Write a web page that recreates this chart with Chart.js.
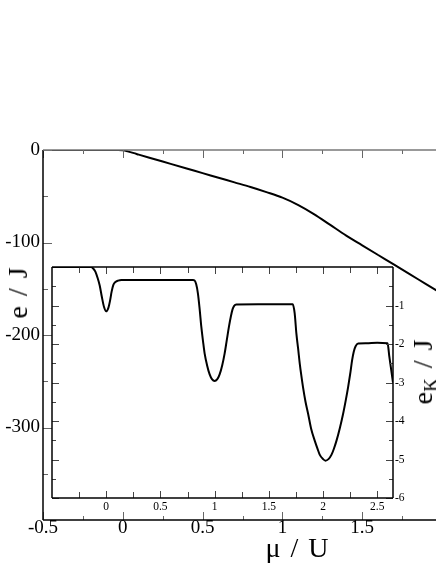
<!DOCTYPE html>
<html>
<head>
<meta charset="utf-8">
<script src="https://cdn.jsdelivr.net/npm/chart.js@4"></script>
<style>
  html, body { margin: 0; padding: 0; background: #fff; overflow: hidden; }
  #wrap { position: relative; width: 436px; height: 564px; overflow: hidden; }
  canvas { position: absolute; left: 0; top: 0; }
  .lbl {
    position: absolute;
    font-family: "Liberation Serif", "DejaVu Serif", serif;
    font-size: 28px;
    line-height: 1;
    color: #000;
    white-space: nowrap;
    word-spacing: 3px;
  }
  .lbl sub { font-size: 19px; vertical-align: -5px; line-height: 0; }
  #yTitle  { left: 18px;  top: 293px; transform: translate(-50%, -50%) rotate(-90deg); }
  #xTitle  { left: 297px; top: 548px; transform: translate(-50%, -50%); }
  #y2Title { left: 423px; top: 372px; transform: translate(-50%, -50%) rotate(-90deg); }
</style>
</head>
<body>
<div id="wrap">
  <canvas id="mainChart" width="480" height="564"></canvas>
  <canvas id="insetChart" width="480" height="564"></canvas>
  <div class="lbl" id="yTitle">e / J</div>
  <div class="lbl" id="xTitle">μ / U</div>
  <div class="lbl" id="y2Title">e<sub>K</sub> / J</div>
</div>
<script>
// ── Hlavní graf: e / J proti μ / U ───────────────────────────
const muMain = [-0.5, -0.3, -0.1, -0.03, 0, 0.03, 0.07, 0.1, 0.2, 0.3, 0.4, 0.5, 0.6, 0.7,
                0.8, 0.9, 1.0, 1.1, 1.2, 1.3, 1.4, 1.5, 1.6, 1.7, 1.8, 1.9, 2.0];
const eMain  = [0, 0, 0, 0, -0.4, -1.5, -3.4, -5, -10, -15, -20, -25, -30, -35,
                -40, -45.5, -51.5, -59.5, -69.5, -81, -92.5, -103, -113.5, -124, -134.5, -145, -155.5];

// ── Vložený graf: e_K / J ────────────────────────────────────
const muInset = [-0.5, -0.2, -0.14, -0.12, -0.1, -0.08, -0.06, -0.04, -0.02, 0, 0.02, 0.035, 0.05,
                 0.065, 0.085, 0.11, 0.14, 0.5, 0.8,
                 0.815, 0.83, 0.846, 0.862, 0.877, 0.893, 0.908, 0.93, 0.954, 0.977, 1.0, 1.023,
                 1.046, 1.07, 1.092, 1.112, 1.132, 1.15, 1.165, 1.18, 1.2, 1.4, 1.72,
                 1.738, 1.754, 1.77, 1.785, 1.8, 1.815, 1.838, 1.862, 1.89, 1.923, 1.95, 1.97, 2.0,
                 2.022, 2.05, 2.077, 2.1, 2.124, 2.155, 2.185, 2.21, 2.231, 2.25, 2.268, 2.283,
                 2.3, 2.324, 2.4, 2.5, 2.595, 2.61, 2.625, 2.645];
const ekInset = [0, 0, 0, -0.04, -0.12, -0.28, -0.48, -0.78, -1.04, -1.15, -1.06, -0.88, -0.64,
                 -0.47, -0.39, -0.355, -0.34, -0.34, -0.34,
                 -0.35, -0.45, -0.69, -1.1, -1.55, -1.93, -2.25, -2.55, -2.79, -2.92, -2.96, -2.92,
                 -2.79, -2.55, -2.25, -1.9, -1.55, -1.28, -1.1, -1.01, -0.975, -0.97, -0.97,
                 -1.2, -1.73, -2.12, -2.51, -2.83, -3.12, -3.5, -3.81, -4.2, -4.51, -4.73, -4.88, -4.99,
                 -5.03, -4.99, -4.88, -4.72, -4.51, -4.18, -3.81, -3.45, -3.12, -2.78, -2.42, -2.2,
                 -2.06, -1.99, -1.98, -1.97, -1.98, -2.3, -2.6, -3.0];

// ── Popisky a značky os ──────────────────────────────────────
const mainXTicks  = [-0.5, 0, 0.5, 1, 1.5, 2];
const mainXMinor  = [-0.25, 0.25, 0.75, 1.25, 1.75];
const mainYTicks  = [0, -100, -200, -300];
const mainYMinor  = [-50, -150, -250, -350];
const insetXTicks = [0, 0.5, 1, 1.5, 2, 2.5];
const insetXMinor = [-0.25, 0.25, 0.75, 1.25, 1.75, 2.25];
const insetYTicks = [-1, -2, -3, -4, -5, -6];
const insetYMinor = [-0.5, -1.5, -2.5, -3.5, -4.5, -5.5];

const serif = '"Liberation Serif", "DejaVu Serif", serif';

function toPoints(xs, ys) {
  return xs.map((x, i) => ({ x, y: ys[i] }));
}

function fixedTicks(values) {
  return scale => { scale.ticks = values.map(v => ({ value: v })); };
}

// Rámeček + značky dovnitř (Chart.js kreslí ticky ven, tak je kreslíme sami)
const frameTicks = {
  id: "frameTicks",
  beforeDatasetsDraw(chart, args, o) {
    if (!o.fill) return;
    const a = chart.chartArea;
    const ctx = chart.ctx;
    ctx.save();
    ctx.fillStyle = o.fill;
    ctx.fillRect(a.left, a.top, a.right - a.left, a.bottom - a.top);
    ctx.restore();
  },
  afterDraw(chart, args, o) {
    const { ctx, chartArea: a, scales: { x, y } } = chart;
    const seg = (x1, y1, x2, y2, col, w) => {
      ctx.strokeStyle = col;
      ctx.lineWidth = w;
      ctx.beginPath();
      ctx.moveTo(x1, y1);
      ctx.lineTo(x2, y2);
      ctx.stroke();
    };
    ctx.save();

    const xMarks = (vals, len) => vals.forEach(v => {
      const p = Math.round(x.getPixelForValue(v)) + 0.5;
      seg(p, a.bottom, p, a.bottom - len, o.tickColor, 1);
      seg(p, a.top, p, a.top + len, o.tickColor, 1);
    });
    const yMarks = (vals, len) => vals.forEach(v => {
      const p = Math.round(y.getPixelForValue(v)) + 0.5;
      seg(a.left, p, a.left + len, p, o.tickColor, 1);
      if (o.rightTicks) seg(a.right, p, a.right - len, p, o.tickColor, 1);
    });
    xMarks(o.xMajor, o.majorLen);
    xMarks(o.xMinor, o.minorLen);
    yMarks(o.yMajor, o.yMajorLen);
    yMarks(o.yMinor, o.yMinorLen);

    o.sides.forEach(s => {
      if (s === "left")   seg(a.left, a.top, a.left, a.bottom, o.frameColor, o.frameWidth);
      if (s === "right")  seg(a.right, a.top, a.right, a.bottom, o.frameColor, o.frameWidth);
      if (s === "bottom") seg(a.left, a.bottom, a.right, a.bottom, o.frameColor, o.frameWidth);
      if (s === "top")    seg(a.left, a.top, a.right, a.top, o.topColor || o.frameColor, o.frameWidth);
    });
    ctx.restore();
  }
};

const baseOpts = {
  responsive: false,
  animation: false,
  events: [],
  plugins: { legend: { display: false }, tooltip: { enabled: false } }
};

// ── Hlavní graf ──────────────────────────────────────────────
new Chart(document.getElementById("mainChart"), {
  type: "line",
  data: {
    datasets: [{
      data: toPoints(muMain, eMain),
      borderColor: "#000",
      borderWidth: 2,
      pointRadius: 0,
      cubicInterpolationMode: "monotone"
    }]
  },
  plugins: [frameTicks],
  options: {
    ...baseOpts,
    layout: { padding: { top: 150, right: 38, left: 0, bottom: 0 } },
    plugins: {
      ...baseOpts.plugins,
      frameTicks: {
        sides: ["left", "bottom", "top"],
        frameColor: "#000", topColor: "#777", frameWidth: 1.5, tickColor: "#666",
        xMajor: mainXTicks, xMinor: mainXMinor, majorLen: 8, minorLen: 4,
        yMajor: mainYTicks, yMinor: mainYMinor, yMajorLen: 9, yMinorLen: 5,
        rightTicks: false
      }
    },
    scales: {
      x: {
        type: "linear", min: -0.5, max: 2,
        afterBuildTicks: fixedTicks(mainXTicks),
        afterFit: s => { s.height = 44; },
        grid: { display: false, drawTicks: false },
        border: { display: false },
        ticks: {
          autoSkip: false, maxRotation: 0, padding: -1, color: "#000",
          font: { family: serif, size: 19, lineHeight: 1 },
          callback: v => String(v)
        }
      },
      y: {
        type: "linear", min: -400, max: 0,
        afterBuildTicks: fixedTicks(mainYTicks),
        afterFit: s => { s.width = 43; },
        grid: { display: false, drawTicks: false },
        border: { display: false },
        ticks: {
          autoSkip: false, padding: 3, color: "#000",
          font: { family: serif, size: 19, lineHeight: 1 },
          callback: v => String(v)
        }
      }
    }
  }
});

// ── Vložený graf ─────────────────────────────────────────────
new Chart(document.getElementById("insetChart"), {
  type: "line",
  data: {
    datasets: [{
      data: toPoints(muInset, ekInset),
      borderColor: "#000",
      borderWidth: 2,
      pointRadius: 0,
      cubicInterpolationMode: "monotone"
    }]
  },
  plugins: [frameTicks],
  options: {
    ...baseOpts,
    layout: { padding: { top: 267, right: 0, left: 52, bottom: 0 } },
    plugins: {
      ...baseOpts.plugins,
      frameTicks: {
        fill: "#fff",
        sides: ["left", "right", "bottom", "top"],
        frameColor: "#000", frameWidth: 1.5, tickColor: "#444",
        xMajor: insetXTicks, xMinor: insetXMinor, majorLen: 7, minorLen: 6,
        yMajor: insetYTicks, yMinor: insetYMinor, yMajorLen: 7, yMinorLen: 4,
        rightTicks: true
      }
    },
    scales: {
      x: {
        type: "linear", min: -0.5, max: 2.645,
        afterBuildTicks: fixedTicks(insetXTicks),
        afterFit: s => { s.height = 66; },
        grid: { display: false, drawTicks: false },
        border: { display: false },
        ticks: {
          autoSkip: false, maxRotation: 0, padding: 3, color: "#000",
          font: { family: serif, size: 11.5, lineHeight: 1 },
          callback: v => String(v)
        }
      },
      y: {
        type: "linear", position: "right", min: -6, max: 0,
        afterBuildTicks: fixedTicks(insetYTicks),
        afterFit: s => { s.width = 87; },
        grid: { display: false, drawTicks: false },
        border: { display: false },
        ticks: {
          autoSkip: false, padding: 2, color: "#000",
          font: { family: serif, size: 11.5, lineHeight: 1 },
          callback: v => String(v)
        }
      }
    }
  }
});
</script>
</body>
</html>
